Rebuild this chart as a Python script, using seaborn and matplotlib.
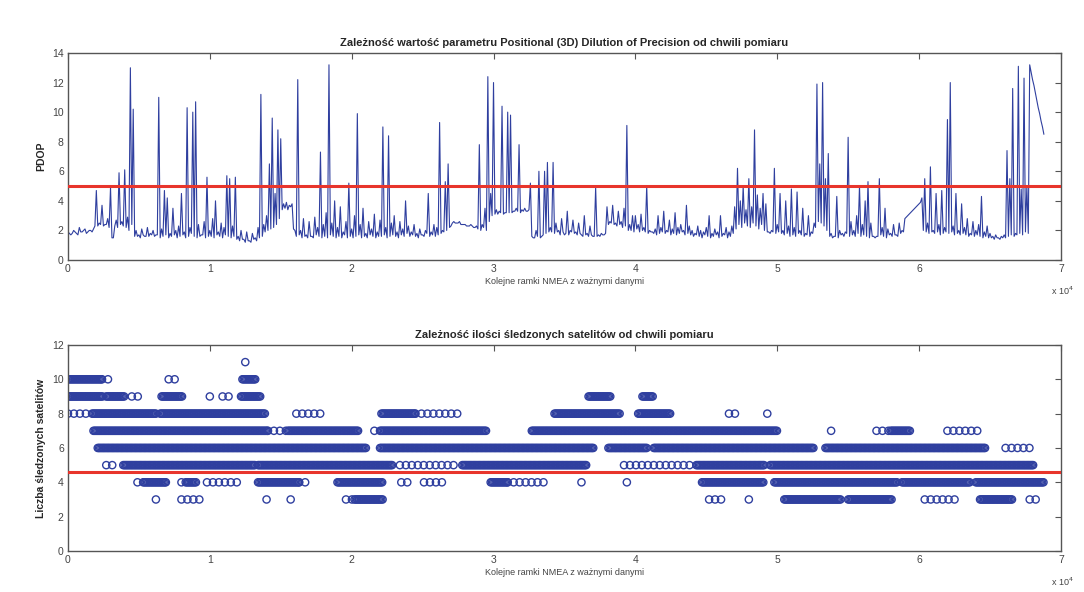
import numpy as np
import pandas as pd
import matplotlib
matplotlib.use("Agg")
import matplotlib.pyplot as plt
import seaborn as sns

# --- dane ---

# PDOP: wartosci gorne (ramki 0, 200, 400, ... 68800)
pdop_step = 200
pdop_values = [
    1.9, 1.7, 2.0, 1.8, 2.2, 1.9, 2.1, 1.9, 2.0, 2.1,
    4.7, 2.5, 3.7, 2.4, 2.8, 4.9, 1.5, 2.7, 5.9, 2.6,
    6.1, 2.9, 13.0, 10.2, 2.0, 1.7, 2.1, 1.6, 2.2, 1.8,
    2.0, 1.7, 11.0, 2.1, 4.7, 4.2, 1.8, 3.5, 2.0, 2.3,
    4.5, 1.9, 10.3, 2.2, 10.0, 10.7, 2.4, 1.7, 2.6, 5.6,
    2.0, 2.8, 4.0, 1.9, 2.5, 2.2, 5.7, 5.5, 2.3, 5.6,
    1.6, 2.0, 1.4, 1.9, 1.3, 1.8, 1.5, 2.2, 11.2, 2.4,
    3.0, 6.5, 9.6, 4.5, 8.8, 8.2, 3.8, 3.9, 3.7, 3.8,
    2.0, 12.2, 2.0, 2.8, 1.7, 2.6, 1.6, 2.9, 2.2, 7.3,
    2.4, 3.2, 13.2, 2.5, 4.0, 2.2, 3.6, 1.9, 2.6, 5.2,
    2.1, 3.0, 9.9, 2.4, 3.5, 1.8, 2.6, 2.1, 3.1, 1.9,
    2.7, 9.0, 2.2, 8.4, 2.5, 3.0, 1.9, 2.6, 2.1, 4.0,
    2.3, 1.9, 2.4, 1.8, 2.1, 1.7, 2.0, 4.5, 1.9, 2.4,
    2.2, 9.3, 2.0, 5.3, 6.5, 2.3, 2.6, 2.5, 2.6, 2.4,
    2.4, 2.3, 2.4, 2.2, 2.3, 7.8, 2.4, 3.5, 12.4, 4.5,
    12.0, 3.4, 3.3, 10.4, 3.2, 10.0, 9.8, 3.3, 3.5, 7.8,
    3.4, 3.5, 3.3, 5.2, 1.5, 2.0, 6.0, 1.6, 6.0, 6.6,
    2.2, 6.6, 2.5, 2.0, 2.8, 1.7, 3.3, 2.0, 2.7, 1.9,
    2.5, 1.7, 3.0, 1.8, 2.3, 1.6, 4.9, 1.7, 1.8, 1.7,
    3.6, 2.6, 3.7, 2.5, 3.3, 2.6, 3.5, 9.1, 2.4, 3.0,
    3.0, 2.4, 3.1, 2.2, 5.0, 2.0, 1.9, 2.1, 3.0, 2.2,
    3.3, 2.0, 2.7, 2.1, 3.2, 2.2, 2.4, 2.0, 3.7, 2.3,
    2.0, 1.8, 2.3, 2.0, 1.9, 2.2, 3.0, 1.8, 2.1, 1.9,
    3.0, 1.8, 2.2, 1.9, 2.3, 3.6, 6.2, 4.0, 5.0, 3.4,
    5.5, 3.6, 8.8, 4.4, 3.5, 4.5, 3.8, 1.9, 2.0, 6.2,
    2.4, 4.5, 2.0, 4.0, 2.3, 4.8, 2.2, 4.6, 2.0, 3.5,
    1.8, 3.0, 1.9, 2.5, 11.9, 6.5, 12.0, 5.5, 7.2, 1.8,
    1.6, 4.3, 2.0, 1.8, 1.9, 8.3, 2.6, 2.0, 3.0, 5.0,
    2.4, 4.0, 5.3, 2.5, 1.6, 1.6, 5.5, 2.2, 3.5, 2.1,
    1.8, 2.4, 1.7, 2.5, 2.0, 2.8, 3.0, 3.2, 3.4, 3.6,
    3.8, 4.2, 5.5, 2.5, 6.3, 2.0, 4.5, 2.4, 4.7, 2.2,
    9.5, 12.0, 2.3, 4.5, 2.0, 3.8, 2.2, 2.8, 1.8, 2.6,
    2.0, 2.4, 4.3, 1.9, 2.3, 1.8, 1.6, 1.7, 1.5, 1.6,
    1.7, 7.4, 5.5, 11.6, 1.8, 13.1, 4.8, 12.3, 5.0, 13.2,
    12.2, 11.3, 10.3, 9.4, 8.5,
]
# PDOP: wartosci dolne pomiedzy nimi (ramki 100, 300, ... 68700)
pdop_dips = [
    1.8, 1.8, 1.9, 1.7, 1.9, 2.0, 1.8, 2.0, 1.9, 2.3,
    2.3, 2.4, 2.3, 2.4, 2.2, 1.5, 2.3, 2.2, 2.4, 2.3,
    2.2, 2.0, 2.4, 1.6, 1.6, 1.5, 1.7, 1.6, 1.6, 1.7,
    1.6, 1.7, 1.5, 1.6, 1.7, 1.5, 1.6, 1.7, 1.5, 1.6,
    1.7, 1.5, 1.6, 1.8, 1.6, 1.5, 1.6, 1.7, 1.5, 1.6,
    1.6, 1.5, 1.7, 1.6, 1.5, 1.7, 1.6, 1.5, 1.6, 1.4,
    1.3, 1.4, 1.2, 1.3, 1.2, 1.4, 1.3, 1.5, 1.6, 1.9,
    2.0, 2.1, 2.2, 2.4, 2.8, 3.4, 3.5, 3.4, 3.6, 2.1,
    1.6, 1.7, 1.5, 1.6, 1.5, 1.6, 1.5, 1.7, 1.6, 1.5,
    1.6, 1.5, 1.7, 1.6, 1.5, 1.6, 1.5, 1.7, 1.5, 1.6,
    1.5, 1.6, 1.7, 1.5, 1.6, 1.5, 1.7, 1.6, 1.5, 1.6,
    1.6, 1.7, 1.5, 1.6, 1.7, 1.6, 1.5, 1.7, 1.6, 1.8,
    1.6, 1.7, 1.6, 1.5, 1.7, 1.6, 1.8, 1.6, 1.7, 1.6,
    1.7, 1.8, 1.9, 2.0, 2.2, 2.5, 2.5, 2.5, 2.4, 2.4,
    2.3, 2.3, 2.3, 2.2, 2.1, 2.0, 2.2, 2.0, 2.6, 3.0,
    3.1, 3.1, 3.2, 3.1, 3.2, 3.2, 3.2, 3.3, 3.3, 3.2,
    3.3, 3.3, 3.4, 1.6, 1.5, 1.6, 1.5, 1.7, 1.8, 1.9,
    1.9, 1.8, 1.9, 1.7, 1.9, 1.8, 1.7, 1.9, 1.8, 1.7,
    1.8, 1.6, 1.7, 1.6, 1.7, 1.6, 1.6, 1.6, 1.7, 1.8,
    2.4, 2.5, 2.4, 2.3, 2.4, 2.2, 2.3, 2.0, 2.0, 1.9,
    2.1, 1.9, 2.0, 1.9, 1.8, 1.9, 1.8, 1.7, 1.8, 1.9,
    1.8, 1.9, 1.7, 1.8, 1.7, 1.8, 1.9, 1.7, 1.8, 1.7,
    1.6, 1.7, 1.6, 1.5, 1.7, 1.6, 1.5, 1.6, 1.7, 1.5,
    1.6, 1.7, 1.5, 1.6, 1.8, 2.1, 2.4, 2.2, 2.5, 2.3,
    2.2, 2.5, 2.3, 2.1, 2.4, 2.0, 1.9, 1.8, 1.9, 1.8,
    1.9, 1.8, 1.7, 1.8, 1.6, 1.7, 1.6, 1.8, 1.7, 1.6,
    1.7, 1.6, 1.8, 2.2, 2.6, 2.5, 2.3, 2.0, 1.6, 1.5,
    1.6, 1.5, 1.7, 1.6, 1.8, 1.6, 1.7, 1.6, 1.8, 1.6,
    1.7, 1.6, 1.5, 1.6, 1.5, 1.6, 1.7, 1.6, 1.5, 1.7,
    1.6, 1.7, 1.6, 1.8, 1.9, 2.9, 3.1, 3.3, 3.5, 3.7,
    3.9, 2.0, 1.9, 1.8, 1.9, 1.8, 1.9, 1.7, 1.8, 1.9,
    1.8, 1.9, 1.7, 1.8, 1.7, 1.8, 1.7, 1.6, 1.7, 1.6,
    1.7, 1.6, 1.5, 1.6, 1.5, 1.5, 1.4, 1.5, 1.4, 1.5,
    1.5, 1.6, 1.7, 1.6, 1.7, 1.8, 1.7, 1.9, 1.8, 12.7,
    11.8, 10.8, 9.9, 9.0,
]
pdop_limit = 5.0

# liczba satelitow: przedzialy ramek (start, koniec) na kazdym poziomie
sat_dense = {
    10: [(0, 2400), (12300, 13200)],
    9: [(0, 2500), (2700, 4000), (6600, 8100), (12200, 13600), (36700, 38300), (40500, 41300)],
    8: [(1700, 6200), (6500, 13900), (22100, 24500), (34300, 38900), (40200, 42500)],
    7: [(1800, 14100), (15500, 20500), (22000, 29500), (32700, 50000), (58000, 59400)],
    6: [(2100, 21000), (22000, 37100), (38100, 40800), (41300, 52600), (53400, 64700)],
    5: [(3900, 13200), (13400, 22900), (27800, 36600), (44300, 49100), (49500, 68100)],
    4: [(5300, 6900), (8300, 9100), (13400, 16300), (19000, 22200), (29800, 31000),
        (44700, 49100), (49800, 58500), (58800, 63600), (64000, 68800)],
    3: [(20200, 22200), (50500, 54500), (55000, 58100), (64300, 66600)],
}
sat_sparse = {
    11: [(12500, 12500)],
    10: [(2400, 3200), (7100, 7800)],
    9: [(4500, 5100), (10000, 10300), (10900, 11500)],
    8: [(0, 1300), (16100, 18000), (24500, 27800), (46600, 47300), (49300, 49300)],
    7: [(14100, 15500), (21600, 21600), (53800, 53800), (57000, 58000), (62000, 64500)],
    6: [(66100, 67800)],
    5: [(2700, 3200), (23400, 27300), (39200, 44000)],
    4: [(4900, 5300), (6900, 7300), (8000, 8300), (9800, 12000), (16300, 17100), (23500, 24200),
        (25100, 26400), (31000, 33900), (36200, 36500), (39400, 39400)],
    3: [(6200, 6600), (8000, 9300), (14000, 14300), (15700, 16000), (19600, 20200),
        (45200, 46400), (48000, 48000), (60400, 62600), (67800, 68300)],
}
sat_limit = 4.6

x_ticks = [0, 1, 2, 3, 4, 5, 6, 7]

# --- przygotowanie tabel ---
ramki, wartosci = [], []
for i, v in enumerate(pdop_values):
    ramki.append(i * pdop_step)
    wartosci.append(v)
    if i < len(pdop_dips):
        ramki.append(i * pdop_step + pdop_step // 2)
        wartosci.append(pdop_dips[i])
pdop_df = pd.DataFrame({"ramka": ramki, "pdop": wartosci})

rows = []
for runs, krok in ((sat_dense, 90), (sat_sparse, 420)):
    for poziom, przedzialy in runs.items():
        for a, b in przedzialy:
            for r in np.arange(a, b + 1, krok):
                rows.append((r, poziom))
sat_df = pd.DataFrame(rows, columns=["ramka", "liczba"])

# --- wykres ---
sns.set_style("white")
plt.rcParams["font.family"] = ["Liberation Sans", "DejaVu Sans"]

kolor_linii = "#2f3f9f"
kolor_czerwony = "#e8352c"

fig = plt.figure(figsize=(10.84, 5.92), dpi=100)
ax1 = fig.add_axes([0.0627, 0.5608, 0.916, 0.3497])
ax2 = fig.add_axes([0.0627, 0.0693, 0.916, 0.348])

sns.lineplot(data=pdop_df, x="ramka", y="pdop", ax=ax1, color=kolor_linii,
             linewidth=0.8, estimator=None)
ax1.axhline(pdop_limit, color=kolor_czerwony, linewidth=2.2, zorder=3)
ax1.set_ylim(0, 14)
ax1.set_yticks(range(0, 15, 2))
ax1.set_ylabel("PDOP", fontsize=7.5, fontweight="bold")
ax1.set_title("Zależność wartość parametru Positional (3D) Dilution of Precision od chwili pomiaru",
              fontsize=8, fontweight="bold", pad=5)

sns.scatterplot(data=sat_df, x="ramka", y="liczba", ax=ax2, marker="o", s=27,
                color=kolor_linii, linewidth=1.0, legend=False)
ax2.collections[0].set_facecolor("none")
ax2.collections[0].set_edgecolor(kolor_linii)
ax2.axhline(sat_limit, color=kolor_czerwony, linewidth=2.2, zorder=3)
ax2.set_ylim(0, 12)
ax2.set_yticks(range(0, 13, 2))
ax2.set_ylabel("Liczba śledzonych satelitów", fontsize=7.5, fontweight="bold")
ax2.set_title("Zależność ilości śledzonych satelitów od chwili pomiaru",
              fontsize=8, fontweight="bold", pad=5)

for ax in (ax1, ax2):
    ax.set_xlim(0, 70000)
    ax.set_xticks([t * 10000 for t in x_ticks])
    ax.set_xticklabels([str(t) for t in x_ticks])
    ax.set_xlabel("Kolejne ramki NMEA z ważnymi danymi", fontsize=6.5, color="#444444", labelpad=2)
    ax.tick_params(direction="in", length=4, width=0.8, top=True, right=True,
                   labelsize=7.5, colors="#555555", labelcolor="#444444", pad=3)
    for sp in ax.spines.values():
        sp.set_color("#555555")
        sp.set_linewidth(1.0)
    ax.text(0.99, -0.15, "x 10$^4$", transform=ax.transAxes, fontsize=6.5,
            color="#444444", ha="left", va="center")

fig.savefig("out.png", dpi=100, facecolor="white")
